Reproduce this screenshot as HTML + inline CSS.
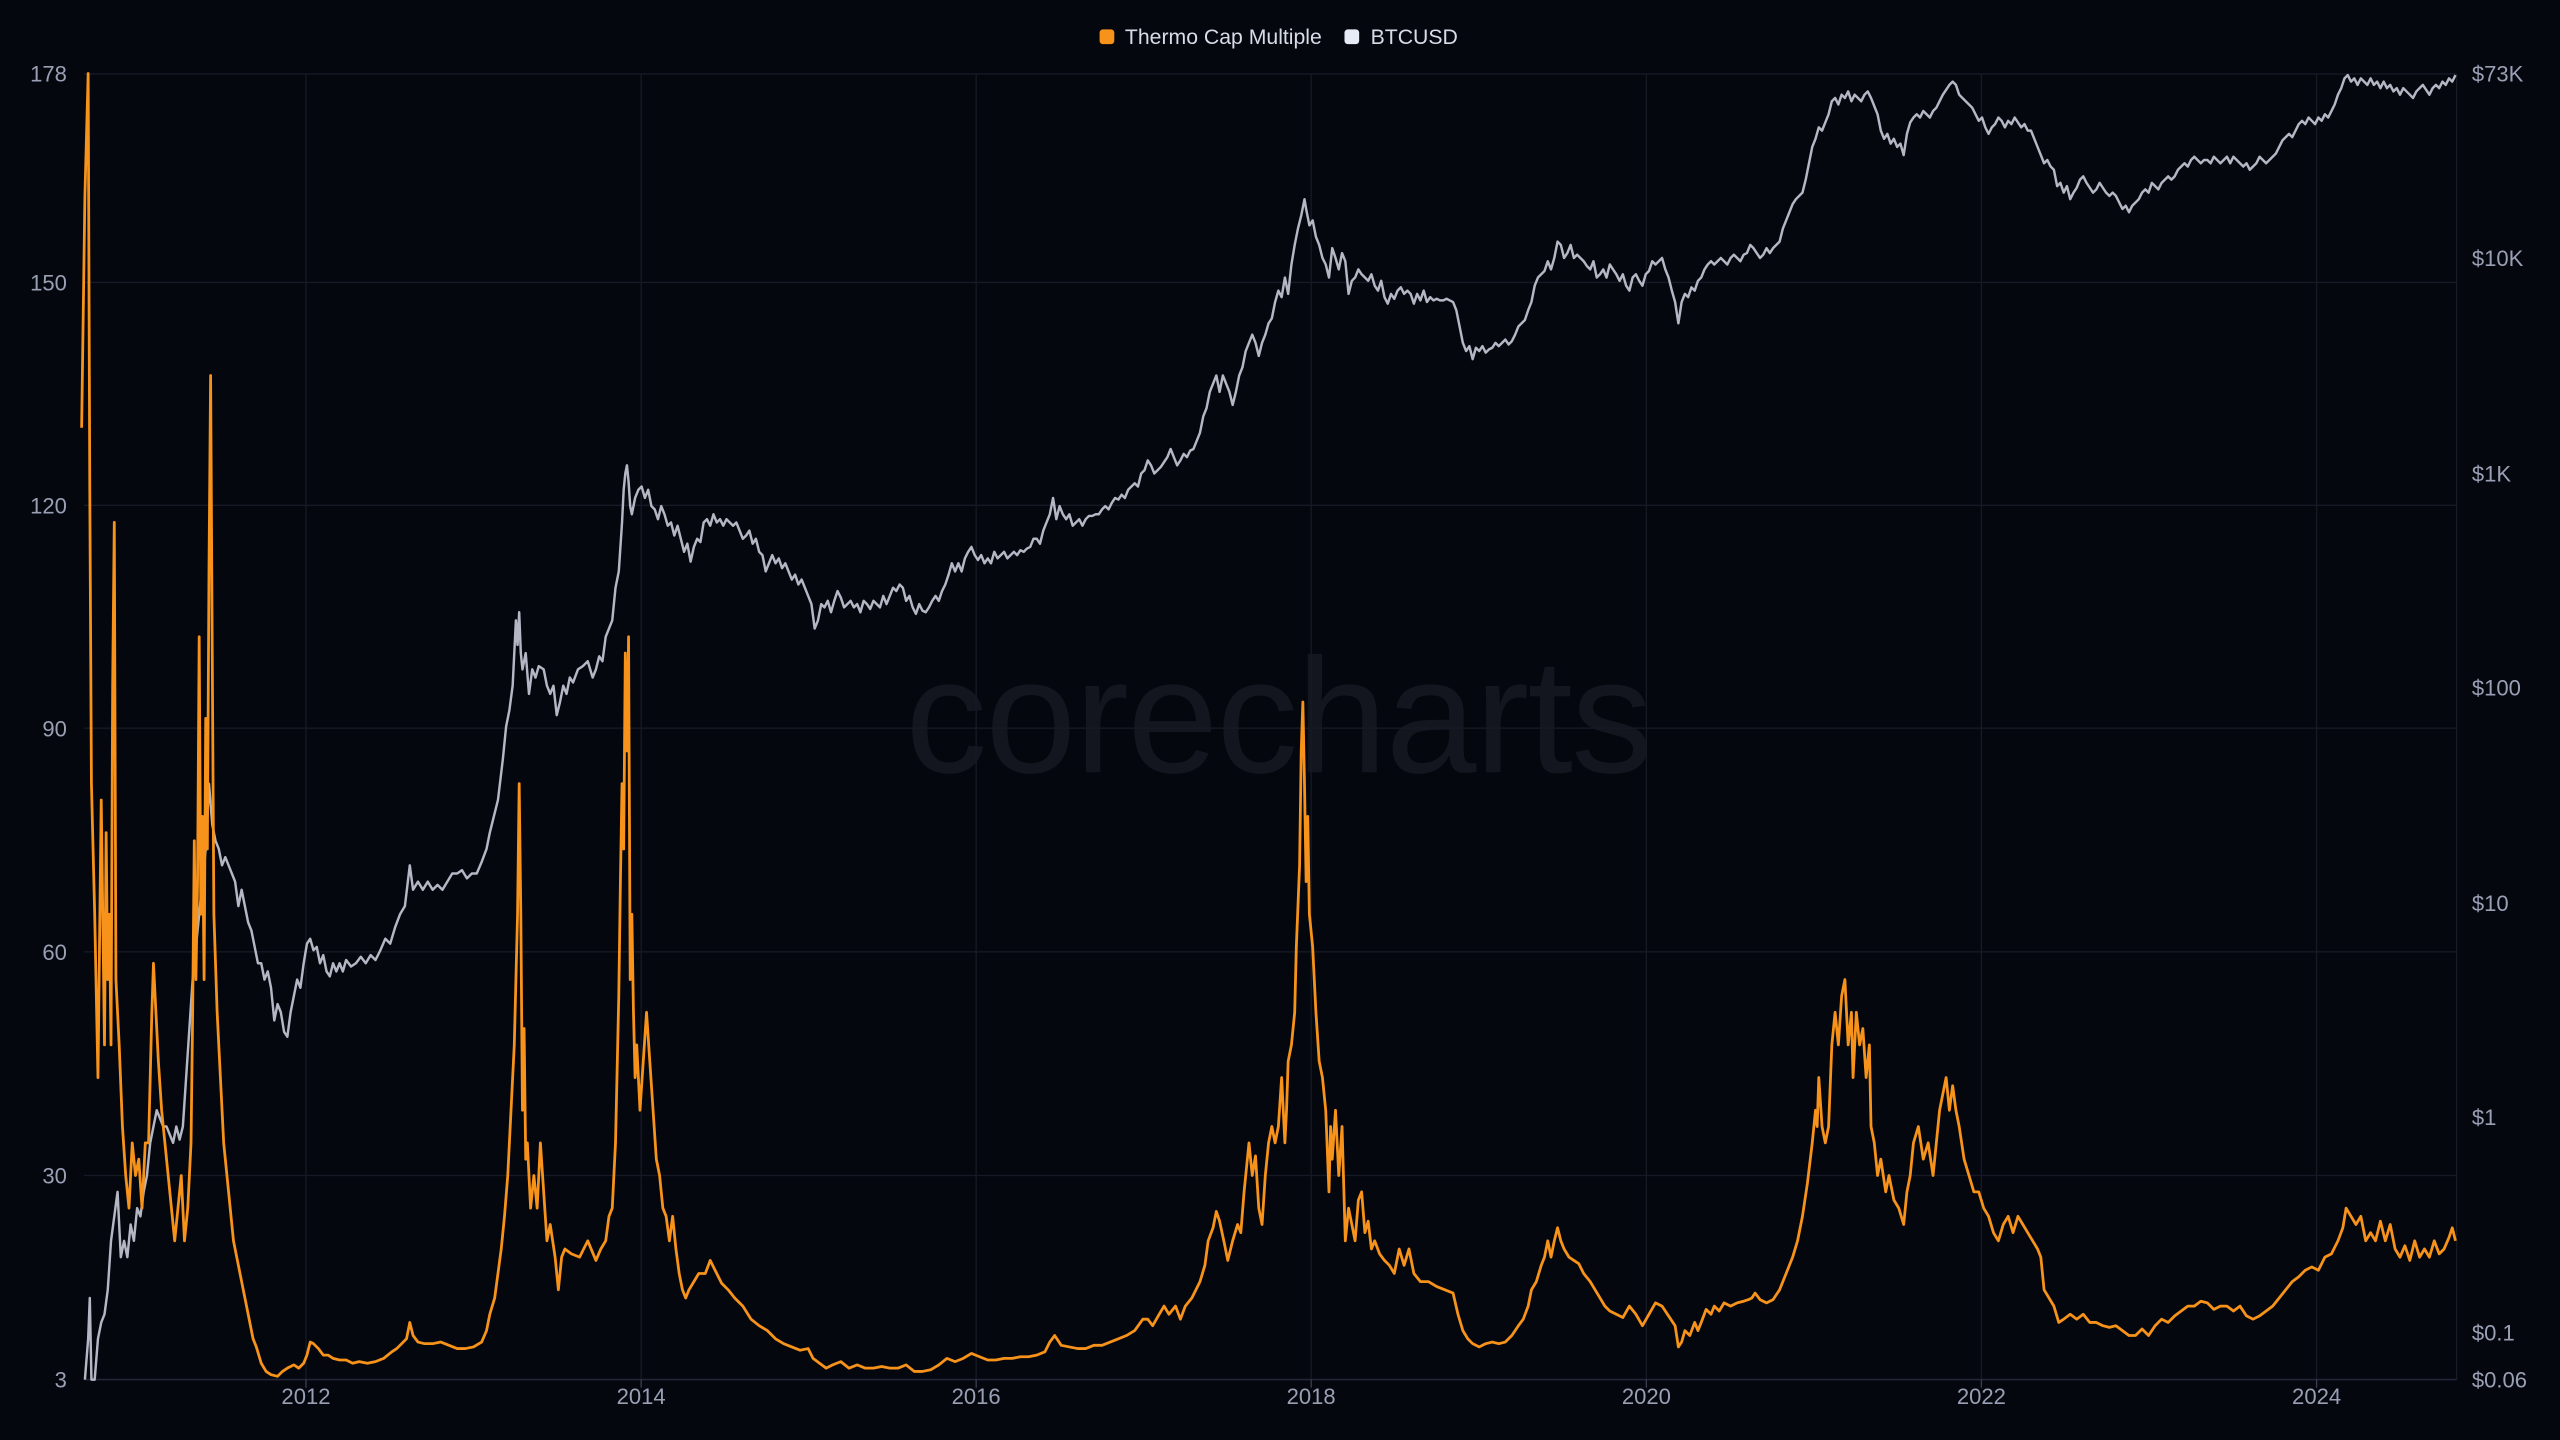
<!DOCTYPE html>
<html><head><meta charset="utf-8"><style>
html,body{margin:0;padding:0;background:#05070f;width:2560px;height:1440px;overflow:hidden}
svg{display:block}
text{font-family:"Liberation Sans",sans-serif}
</style></head><body>
<svg width="2560" height="1440" viewBox="0 0 1568 882" xmlns="http://www.w3.org/2000/svg">
<rect x="0" y="0" width="1568" height="882" fill="#05070f"/>
<text x="783" y="473" text-anchor="middle" font-size="100" fill="#13161f" letter-spacing="-1">corecharts</text>
<g stroke="#161a25" stroke-width="0.8" fill="none">
<line x1="51.5" y1="45.3" x2="1504.7" y2="45.3"/>
<line x1="51.5" y1="173" x2="1504.7" y2="173"/>
<line x1="51.5" y1="309.5" x2="1504.7" y2="309.5"/>
<line x1="51.5" y1="446" x2="1504.7" y2="446"/>
<line x1="51.5" y1="583" x2="1504.7" y2="583"/>
<line x1="51.5" y1="720" x2="1504.7" y2="720"/>
<line x1="187.4" y1="45.3" x2="187.4" y2="845"/>
<line x1="392.7" y1="45.3" x2="392.7" y2="845"/>
<line x1="597.9" y1="45.3" x2="597.9" y2="845"/>
<line x1="803.1" y1="45.3" x2="803.1" y2="845"/>
<line x1="1008.4" y1="45.3" x2="1008.4" y2="845"/>
<line x1="1213.6" y1="45.3" x2="1213.6" y2="845"/>
<line x1="1418.9" y1="45.3" x2="1418.9" y2="845"/>
<line x1="1504.7" y1="45.3" x2="1504.7" y2="845"/>
</g>
<line x1="51.5" y1="845" x2="1504.7" y2="845" stroke="#22263a" stroke-width="1"/>
<g stroke="#3a3e50" stroke-width="0.8">
<line x1="187.4" y1="845" x2="187.4" y2="850"/><line x1="392.7" y1="845" x2="392.7" y2="850"/><line x1="597.9" y1="845" x2="597.9" y2="850"/><line x1="803.1" y1="845" x2="803.1" y2="850"/><line x1="1008.4" y1="845" x2="1008.4" y2="850"/><line x1="1213.6" y1="845" x2="1213.6" y2="850"/><line x1="1418.9" y1="845" x2="1418.9" y2="850"/>
</g>
<g font-size="13.5" fill="#9aa0b4" text-anchor="end">
<text x="41" y="50">178</text><text x="41" y="178">150</text><text x="41" y="314.5">120</text><text x="41" y="451">90</text><text x="41" y="588">60</text><text x="41" y="725">30</text><text x="41" y="850">3</text>
</g>
<g font-size="13.5" fill="#9aa0b4" text-anchor="start">
<text x="1514" y="50">$73K</text><text x="1514" y="163">$10K</text><text x="1514" y="295">$1K</text><text x="1514" y="426">$100</text><text x="1514" y="558">$10</text><text x="1514" y="689">$1</text><text x="1514" y="821">$0.1</text><text x="1514" y="850">$0.06</text>
</g>
<g font-size="13.5" fill="#9aa0b4" text-anchor="middle">
<text x="187.4" y="860">2012</text><text x="392.7" y="860">2014</text><text x="597.9" y="860">2016</text><text x="803.1" y="860">2018</text><text x="1008.4" y="860">2020</text><text x="1213.6" y="860">2022</text><text x="1418.9" y="860">2024</text>
</g>
<rect x="673.5" y="18" width="9" height="9" rx="2" fill="#f7931a"/>
<text x="689" y="27" font-size="13" fill="#d8dce8">Thermo Cap Multiple</text>
<rect x="823.5" y="18" width="9" height="9" rx="2" fill="#e6ebf5"/>
<text x="839.5" y="27" font-size="13" fill="#d8dce8">BTCUSD</text>
<polyline fill="none" stroke="#b4b8c4" stroke-width="1.5" stroke-linejoin="round" points="52,845 54,820 55,795 56,845 58,845 60,820 62,810 64,805 66,790 68,760 70,745 72,730 74,770 76,760 78,770 80,750 82,760 84,740 86,745 88,730 90,720 92,700 94,690 96,680 98,685 100,690 102,690 104,695 106,700 108,690 110,698 112,690 114,660 116,630 118,600 120,580 122,560 124,540 126,520 128,480 130,505 132,515 134,520 136,530 138,525 140,530 142,535 144,540 146,555 148,545 150,555 152,565 154,570 156,580 158,590 160,590 162,600 164,595 166,605 168,625 170,615 172,620 174,632 176,635 178,620 180,610 182,600 184,605 186,590 188,578 190,575 192,582 194,580 196,590 198,585 200,595 202,598 204,590 206,595 208,590 210,595 212,588 215,592 218,590 221,586 224,590 227,585 230,588 233,582 236,575 239,578 242,568 245,560 248,555 251,530 253,545 256,540 259,545 262,540 265,545 268,542 271,545 274,540 277,535 280,535 283,533 286,538 289,535 292,535 295,528 298,520 300,510 303,498 305,490 308,465 310,445 312,435 314,420 316,380 317,395 318,375 319,400 320,410 322,400 324,425 326,410 328,415 330,408 333,410 335,420 337,425 339,420 341,438 343,430 345,420 347,425 349,415 351,418 354,410 357,408 360,405 363,415 365,410 367,402 369,405 371,390 373,385 375,380 377,360 379,350 381,320 382,300 383,290 384,285 385,295 386,310 387,315 389,305 391,300 393,298 395,305 397,300 399,310 401,312 403,318 405,310 407,315 409,322 411,320 413,328 415,322 417,330 419,338 421,333 423,344 425,335 427,330 429,332 431,320 433,318 435,322 437,315 439,320 441,318 443,322 445,318 447,320 449,322 451,320 453,325 455,330 457,328 459,325 461,333 463,330 465,338 467,340 469,350 471,345 473,340 475,345 477,342 479,348 481,345 483,350 485,355 487,352 489,358 491,355 493,360 495,365 497,370 499,385 501,380 503,370 505,372 507,368 509,375 511,368 513,362 515,366 517,372 519,370 521,368 523,372 525,370 527,375 529,368 531,370 533,373 535,368 537,370 539,372 541,365 543,370 545,365 547,360 549,362 551,358 553,360 555,368 557,365 559,372 561,376 563,370 565,374 567,375 569,372 571,368 573,365 575,368 577,362 579,358 581,352 583,345 585,350 587,345 589,350 591,342 593,338 595,335 597,340 599,343 601,340 603,345 605,342 607,345 609,338 611,342 613,340 615,338 617,342 619,340 621,338 623,340 625,337 627,338 629,336 631,335 633,330 635,330 637,333 639,325 641,320 643,315 645,305 647,318 649,310 651,315 653,318 655,315 657,322 659,320 661,318 663,322 665,318 667,316 669,316 671,315 673,315 675,312 677,310 679,312 681,308 683,305 685,306 687,303 689,305 691,300 693,298 695,296 697,298 699,290 701,288 703,282 705,285 707,290 709,288 711,286 713,283 715,280 717,275 719,280 721,285 723,282 725,278 727,280 729,276 731,275 733,270 735,265 737,255 739,250 741,240 743,235 745,230 747,240 749,230 751,235 753,240 755,248 757,240 759,230 761,225 763,215 765,210 767,205 769,210 771,218 773,210 775,205 777,198 779,195 781,185 783,178 785,182 787,170 789,180 791,162 793,150 795,140 797,132 799,122 800,128 802,138 804,135 806,145 808,150 810,158 812,162 814,170 816,152 818,158 820,165 822,155 824,160 826,180 828,172 830,170 832,165 834,168 836,170 838,172 840,168 842,175 844,178 846,172 848,182 850,186 852,180 854,183 856,178 858,176 860,180 862,178 864,180 866,186 868,180 870,184 872,178 874,185 876,182 878,184 880,183 882,184 884,184 886,183 888,184 890,185 892,190 894,200 896,210 898,215 900,212 902,220 904,213 906,215 908,212 910,216 912,214 914,213 916,210 918,212 920,210 922,208 924,211 926,209 928,205 930,200 932,198 934,196 936,190 938,185 940,175 942,170 944,168 946,166 948,160 950,165 952,158 954,148 956,150 958,158 960,155 962,150 964,158 966,156 968,158 970,160 972,163 974,165 976,160 978,170 980,168 982,165 984,170 986,162 988,165 990,168 992,172 994,168 996,175 998,178 1000,170 1002,168 1004,172 1006,175 1008,168 1010,166 1012,160 1014,162 1016,160 1018,158 1020,165 1022,170 1024,178 1026,185 1028,198 1030,185 1032,180 1034,182 1036,176 1038,178 1040,172 1042,170 1044,165 1046,162 1048,160 1050,162 1052,160 1054,158 1056,160 1058,162 1060,158 1062,156 1064,158 1066,160 1068,156 1070,155 1072,150 1074,152 1076,155 1078,158 1080,156 1082,152 1084,155 1086,152 1088,150 1090,148 1092,140 1094,135 1096,130 1098,125 1100,122 1102,120 1104,118 1106,110 1108,100 1110,90 1112,85 1114,78 1116,80 1118,75 1120,70 1122,62 1124,60 1126,64 1128,58 1130,60 1132,56 1134,62 1136,58 1138,60 1140,62 1142,58 1144,56 1146,60 1148,65 1150,70 1152,80 1154,85 1156,82 1158,88 1160,85 1162,90 1164,88 1166,95 1168,82 1170,75 1172,72 1174,70 1176,72 1178,68 1180,70 1182,72 1184,68 1186,66 1188,62 1190,58 1192,55 1194,52 1196,50 1198,52 1200,58 1202,60 1204,62 1206,64 1208,66 1210,70 1212,74 1214,72 1216,78 1218,82 1220,78 1222,76 1224,72 1226,74 1228,78 1230,74 1232,76 1234,72 1236,75 1238,78 1240,76 1242,80 1244,80 1246,85 1248,90 1250,95 1252,100 1254,98 1256,102 1258,104 1260,114 1262,112 1264,118 1266,114 1268,122 1270,118 1272,115 1274,110 1276,108 1278,112 1280,115 1282,118 1284,116 1286,112 1288,115 1290,118 1292,120 1294,118 1296,120 1298,124 1300,128 1302,126 1304,130 1306,126 1308,124 1310,122 1312,118 1314,116 1316,118 1318,112 1320,114 1322,116 1324,112 1326,110 1328,108 1330,110 1332,108 1334,104 1336,102 1338,100 1340,102 1342,98 1344,96 1346,98 1348,100 1350,98 1352,98 1354,100 1356,96 1358,98 1360,100 1362,98 1364,96 1366,100 1368,96 1370,98 1372,100 1374,102 1376,100 1378,104 1380,102 1382,100 1384,96 1386,98 1388,100 1390,98 1392,96 1394,94 1396,90 1398,86 1400,84 1402,82 1404,84 1406,80 1408,76 1410,74 1412,76 1414,72 1416,74 1418,76 1420,72 1422,74 1424,70 1426,72 1428,68 1430,64 1432,58 1434,54 1436,48 1438,46 1440,50 1442,48 1444,52 1446,48 1448,50 1450,52 1452,48 1454,52 1456,50 1458,54 1460,50 1462,54 1464,52 1466,56 1468,54 1470,58 1472,54 1474,56 1476,58 1478,60 1480,56 1482,54 1484,52 1486,55 1488,58 1490,54 1492,52 1494,54 1496,50 1498,52 1500,48 1502,50 1504,46"/>
<polyline fill="none" stroke="#f7931a" stroke-width="1.7" stroke-linejoin="round" points="50,262 52,120 54,45 55,300 56,480 58,560 60,660 62,490 64,640 65,510 66,600 67,560 68,640 69,420 70,320 71,600 73,640 75,690 77,720 79,740 81,700 83,720 85,710 87,740 89,700 91,700 93,620 94,590 95,610 97,650 99,680 101,700 103,720 105,740 107,760 109,740 111,720 113,760 115,740 117,700 118,620 119,515 120,600 121,540 122,390 123,560 124,500 125,600 126,440 127,520 128,350 129,230 130,400 131,560 133,620 135,660 137,700 139,720 141,740 143,760 145,770 147,780 149,790 151,800 153,810 155,820 157,825 160,835 163,840 166,842 170,843 173,840 176,838 180,836 183,838 186,835 188,830 190,822 192,823 195,826 198,830 201,830 204,832 208,833 212,833 216,835 220,834 225,835 230,834 235,832 240,828 243,826 246,823 249,820 251,810 253,818 256,822 260,823 265,823 270,822 275,824 280,826 285,826 290,825 295,822 298,815 300,805 303,795 305,780 307,765 309,745 311,720 313,680 315,640 317,560 318,480 319,560 320,680 321,630 322,710 323,700 325,740 327,720 329,740 331,700 333,730 335,760 337,750 340,770 342,790 344,770 346,765 350,768 355,770 360,760 365,772 368,765 371,760 373,745 375,740 377,700 379,610 380,540 381,480 382,520 383,400 384,460 385,390 386,600 387,560 388,620 389,660 390,640 392,680 394,650 396,620 398,650 400,680 402,710 404,720 406,740 408,745 410,760 412,745 414,765 416,780 418,790 420,795 422,790 425,785 428,780 432,780 435,772 438,778 442,786 446,790 450,795 455,800 460,808 465,812 470,815 475,820 480,823 485,825 490,827 495,826 498,832 502,835 506,838 510,836 515,834 520,838 525,836 530,838 535,838 540,837 545,838 550,838 555,836 560,840 565,840 570,839 575,836 580,832 585,834 590,832 595,829 600,831 605,833 610,833 615,832 620,832 625,831 630,831 635,830 640,828 643,822 646,818 650,824 655,825 660,826 665,826 670,824 675,824 680,822 685,820 690,818 695,815 700,808 703,808 706,812 710,805 713,800 716,805 720,800 723,808 726,800 730,795 735,785 738,775 740,760 743,752 745,742 747,748 750,762 752,772 755,760 758,750 760,755 762,730 765,700 767,720 769,708 771,740 773,750 775,720 777,700 779,690 781,700 783,690 785,660 787,700 788,680 789,650 791,640 793,620 794,580 796,530 797,460 798,430 799,480 800,540 801,500 802,560 804,580 806,620 808,650 810,660 812,680 814,730 815,690 816,710 818,680 820,720 822,690 824,760 826,740 828,750 830,760 832,735 834,730 836,755 838,748 840,765 842,760 845,768 848,772 851,775 854,780 857,765 860,775 863,765 866,780 870,785 875,785 880,788 885,790 890,792 893,805 896,815 899,820 902,823 906,825 910,823 914,822 918,823 922,822 926,818 930,812 933,808 936,800 938,790 941,785 944,775 946,770 948,760 950,770 952,760 954,752 956,760 958,765 961,770 964,772 967,774 970,780 974,785 977,790 980,795 983,800 986,803 990,805 994,807 998,800 1002,805 1006,812 1010,805 1014,798 1018,800 1022,806 1026,812 1028,825 1030,822 1032,815 1035,818 1038,810 1040,815 1042,810 1045,802 1048,805 1050,800 1053,803 1056,798 1060,800 1064,798 1068,797 1071,796 1073,795 1075,792 1078,796 1082,798 1086,796 1090,790 1094,780 1098,770 1101,760 1104,745 1107,725 1110,700 1112,680 1113,690 1114,660 1116,690 1118,700 1120,690 1122,640 1124,620 1126,640 1128,610 1130,600 1132,640 1134,620 1135,660 1137,620 1139,640 1141,630 1143,660 1145,640 1146,690 1148,700 1150,720 1152,710 1155,730 1157,720 1160,735 1163,740 1166,750 1168,730 1170,720 1172,700 1175,690 1178,710 1181,700 1184,720 1186,700 1188,680 1190,670 1192,660 1194,680 1196,665 1198,680 1200,690 1203,710 1206,720 1209,730 1212,730 1215,740 1218,745 1221,755 1224,760 1227,750 1230,745 1233,755 1236,745 1239,750 1242,755 1245,760 1248,765 1250,770 1252,790 1255,795 1258,800 1261,810 1264,808 1268,805 1272,808 1276,805 1280,810 1284,810 1288,812 1292,813 1296,812 1300,815 1304,818 1308,818 1312,814 1316,818 1320,812 1324,808 1328,810 1332,806 1336,803 1340,800 1344,800 1348,797 1352,798 1356,802 1360,800 1364,800 1368,803 1372,800 1376,806 1380,808 1384,806 1388,803 1392,800 1396,795 1400,790 1404,785 1408,782 1412,778 1416,776 1420,778 1424,770 1428,768 1432,760 1435,752 1437,740 1440,745 1443,750 1446,745 1449,760 1452,755 1455,760 1458,748 1461,760 1464,750 1467,765 1470,770 1473,763 1476,772 1479,760 1482,770 1485,765 1488,770 1491,760 1494,768 1497,765 1500,758 1502,752 1504,760"/>
</svg>
</body></html>
